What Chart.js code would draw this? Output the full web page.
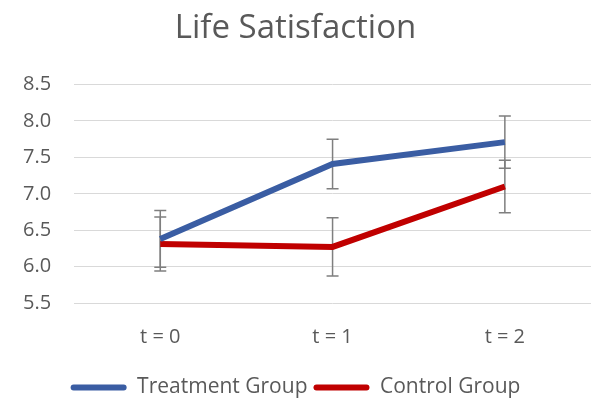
<!DOCTYPE html>
<html>
<head>
<meta charset="utf-8">
<script src="https://cdn.jsdelivr.net/npm/chart.js@4.4.1/dist/chart.umd.min.js"></script>
<style>
  html, body { margin: 0; padding: 0; background: #fff; }
  #wrap { width: 591px; height: 408px; position: relative; }
</style>
</head>
<body>
<div id="wrap"><canvas id="lifeChart"></canvas></div>
<script>
// Data
const categories = ['t = 0', 't = 1', 't = 2'];
const treatmentValues = [6.38, 7.41, 7.71];
const treatmentErrors = [0.39, 0.34, 0.36];
const controlValues = [6.31, 6.27, 7.10];
const controlErrors = [0.37, 0.40, 0.36];
const yTicks = [5.5, 6.0, 6.5, 7.0, 7.5, 8.0, 8.5];

const textGray = '#595959';
const blue = '#3A5DA3';
const red = '#C00000';
const fontFamily = 'Open Sans';

// Draws the error bars under the lines, using the chart's own scales
const errorBarPlugin = {
    id: 'errorBars',
    beforeDatasetsDraw(chart) {
        const ctx = chart.ctx;
        const x = chart.scales.x;
        const y = chart.scales.y;
        ctx.save();
        ctx.strokeStyle = '#7F7F7F';
        ctx.lineWidth = 1.5;
        chart.data.datasets.forEach(ds => {
            ds.data.forEach((v, i) => {
                const px = x.getPixelForValue(i);
                const top = y.getPixelForValue(v + ds.errors[i]);
                const bot = y.getPixelForValue(v - ds.errors[i]);
                ctx.beginPath();
                ctx.moveTo(px, top);
                ctx.lineTo(px, bot);
                ctx.moveTo(px - 6, top);
                ctx.lineTo(px + 6, top);
                ctx.moveTo(px - 6, bot);
                ctx.lineTo(px + 6, bot);
                ctx.stroke();
            });
        });
        ctx.restore();
    }
};

const ctx = document.getElementById('lifeChart').getContext('2d');
const lifeChart = new Chart(ctx, {
    type: 'line',
    data: {
        labels: categories,
        datasets: [
            {
                label: 'Treatment Group',
                data: treatmentValues,
                errors: treatmentErrors,
                borderColor: blue,
                backgroundColor: blue,
                borderWidth: 6,
                pointRadius: 0,
                fill: false,
                tension: 0
            },
            {
                label: 'Control Group',
                data: controlValues,
                errors: controlErrors,
                borderColor: red,
                backgroundColor: red,
                borderWidth: 6,
                pointRadius: 0,
                fill: false,
                tension: 0
            }
        ]
    },
    options: {
        responsive: true,
        maintainAspectRatio: false,
        animation: false,
        layout: {
            padding: { left: 0, right: 0, top: 9, bottom: 0 }
        },
        scales: {
            x: {
                offset: true,
                grid: { display: false, drawTicks: false },
                border: { display: false },
                ticks: {
                    color: textGray,
                    padding: 22,
                    font: { family: fontFamily, size: 20 }
                }
            },
            y: {
                min: 5.5,
                max: 8.5,
                afterBuildTicks(axis) {
                    axis.ticks = yTicks.map(v => ({ value: v }));
                },
                grid: { color: '#D9D9D9', lineWidth: 1, drawTicks: false },
                border: { display: false },
                ticks: {
                    color: textGray,
                    padding: 23,
                    font: { family: fontFamily, size: 20 },
                    callback: v => v.toFixed(1)
                }
            }
        },
        plugins: {
            title: {
                display: true,
                text: 'Life Satisfaction',
                color: textGray,
                font: { family: fontFamily, size: 33, weight: 'normal' },
                padding: { top: 0, bottom: 36 }
            },
            legend: {
                display: true,
                position: 'bottom',
                labels: {
                    color: textGray,
                    font: { family: fontFamily, size: 21 },
                    boxWidth: 56,
                    boxHeight: 6,
                    padding: 6,
                    useBorderRadius: true,
                    borderRadius: 3,
                    generateLabels(chart) {
                        const items = Chart.defaults.plugins.legend.labels.generateLabels(chart);
                        items.forEach(item => {
                            item.fillStyle = item.strokeStyle;
                            item.lineWidth = 0;
                        });
                        return items;
                    }
                }
            },
            tooltip: { enabled: false }
        }
    },
    plugins: [errorBarPlugin]
});
</script>
</body>
</html>
